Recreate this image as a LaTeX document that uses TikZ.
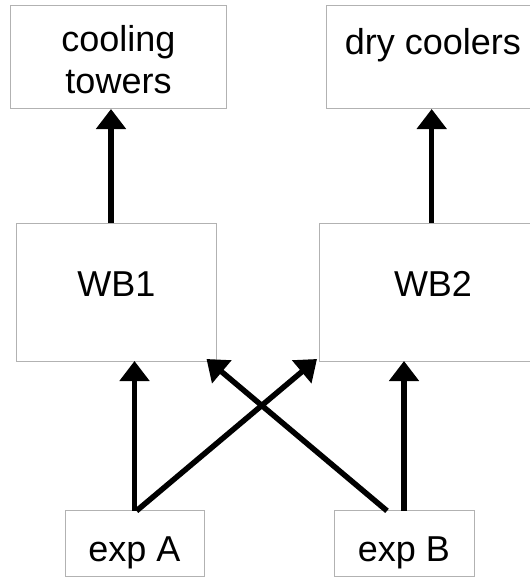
\documentclass[tikz,border=0pt]{standalone}
\usepackage{fontspec}
\setmainfont{Liberation Sans}
\usetikzlibrary{arrows.meta}
\begin{document}
\begin{tikzpicture}[x=1bp,y=-1bp,
  box/.style={draw=black!30, line width=1bp, inner sep=0pt, outer sep=0pt,
    font=\fontsize{36bp}{42bp}\selectfont},
  arr/.style={line width=5.5bp, -{Triangle[width=29bp,length=20bp]}}]
\useasboundingbox (0,0) rectangle (530,577);
% boxes
\node[box, minimum width=215bp, minimum height=103bp, align=center,
  text height=73bp, text depth=0bp] (ct) at (118.5,57.5) {cooling\\towers};
\node[box, minimum width=214bp, minimum height=103bp,
  text height=26bp, text depth=31bp] (dc) at (433,57.5) {dry coolers};
\node[box, minimum width=199bp, minimum height=138bp,
  text height=26bp, text depth=16.6bp] (wb1) at (116.5,292) {WB1};
\node[box, minimum width=228bp, minimum height=138bp,
  text height=26bp, text depth=16.6bp] (wb2) at (433,292) {WB2};
\node[box, minimum width=139bp, minimum height=65.5bp,
  text height=36bp, text depth=0bp] (ea) at (134.5,543.6) {exp A};
\node[box, minimum width=140bp, minimum height=65.5bp,
  text height=36bp, text depth=0bp] (eb) at (404,543.6) {exp B};
% connectors
\draw[arr] ([xshift=-5.5bp]wb1.north) -- ([xshift=-5.5bp]wb1.north |- ct.south);
\draw[arr] ([xshift=-1.3bp]wb2.north) -- ([xshift=-1.3bp]wb2.north |- dc.south);
\draw[arr] (ea.north) -- (ea.north |- wb1.south);
\draw[arr] (eb.north) -- (eb.north |- wb2.south);
\draw[arr] ([xshift=2bp]ea.north) -- ([xshift=-2bp,yshift=2bp]wb2.south west);
\draw[arr] ([xshift=-17bp]eb.north) -- ([xshift=-9.5bp,yshift=2bp]wb1.south east);
\end{tikzpicture}
\end{document}
